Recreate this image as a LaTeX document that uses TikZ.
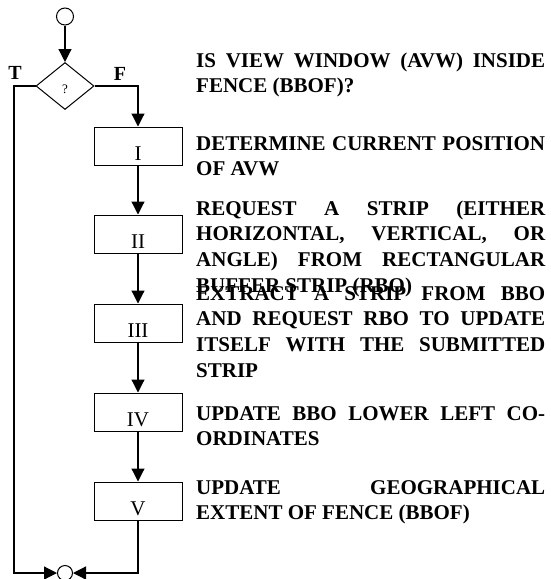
\documentclass[tikz,border=0pt]{standalone}
\usepackage{fontspec}
\setmainfont{Liberation Serif}
\usetikzlibrary{arrows.meta,shapes.geometric}
\tikzset{
  stepbox/.style={draw,line width=1pt,minimum width=88pt,minimum height=38pt,inner sep=0pt,
    text height=28pt,text depth=0pt,font=\fontsize{21}{21}\selectfont},
  note/.style={anchor=base west,inner sep=0pt,text width=349pt,align=justify,
    font=\fontsize{21}{25.8}\selectfont\bfseries},
  flow/.style={line width=1.2pt,-{Triangle[length=13pt,width=13pt]}},
  joint/.style={draw,circle,line width=1pt,minimum size=15pt,inner sep=0pt}
}
\begin{document}
\begin{tikzpicture}[x=1pt,y=-1pt]
  \useasboundingbox (0,0) rectangle (551,579);
  \node[joint,minimum size=17pt] (s) at (65,16.5) {};
  \node[draw,diamond,line width=1pt,minimum width=58pt,minimum height=47pt,inner sep=0pt] (q) at (65,86) {};
  \node[font=\fontsize{13}{13}\selectfont] at (65,89) {?};
  \node[font=\fontsize{20}{20}\selectfont\bfseries] (t) at (15,73) {T};
  \node[font=\fontsize{20}{20}\selectfont\bfseries] (f) at (120,74) {F};
  \node[stepbox] (I) at (138,146) {I};
  \node[stepbox] (II) at (138,234) {II};
  \node[stepbox] (III) at (138,323) {III};
  \node[stepbox] (IV) at (138,412) {IV};
  \node[stepbox] (V) at (138,501) {V};
  \node[joint] (e) at (65,573) {};
  \coordinate (lc) at (14,573);
  \draw[flow] (s) -- (q.north);
  \draw[flow] (q.east) -| (I.north);
  \draw[flow] (I) -- (II);
  \draw[flow] (II) -- (III);
  \draw[flow] (III) -- (IV);
  \draw[flow] (IV) -- (V);
  \draw[flow] (q.west) -| (lc) -- (e.west);
  \draw[flow] (V.south) |- (e.east);
  \node[note] (na) at (196,67) {IS VIEW WINDOW (AVW) INSIDE\linebreak FENCE (BBOF)?};
  \node[note] (nb) at (196,150) {DETERMINE CURRENT POSITION OF AVW};
  \node[note] (nc) at (196,215) {REQUEST A STRIP (EITHER\linebreak HORIZONTAL, VERTICAL, OR\linebreak ANGLE) FROM RECTANGULAR\linebreak BUFFER STRIP (RBO)};
  \node[note] (nd) at (196,300) {EXTRACT A STRIP FROM BBO\linebreak AND REQUEST RBO TO UPDATE\linebreak ITSELF WITH THE SUBMITTED\linebreak STRIP};
  \node[note] (ne) at (196,420) {UPDATE BBO LOWER LEFT CO-\linebreak ORDINATES};
  \node[note] (nf) at (196,494) {UPDATE GEOGRAPHICAL\linebreak EXTENT OF FENCE (BBOF)};
\end{tikzpicture}
\end{document}
